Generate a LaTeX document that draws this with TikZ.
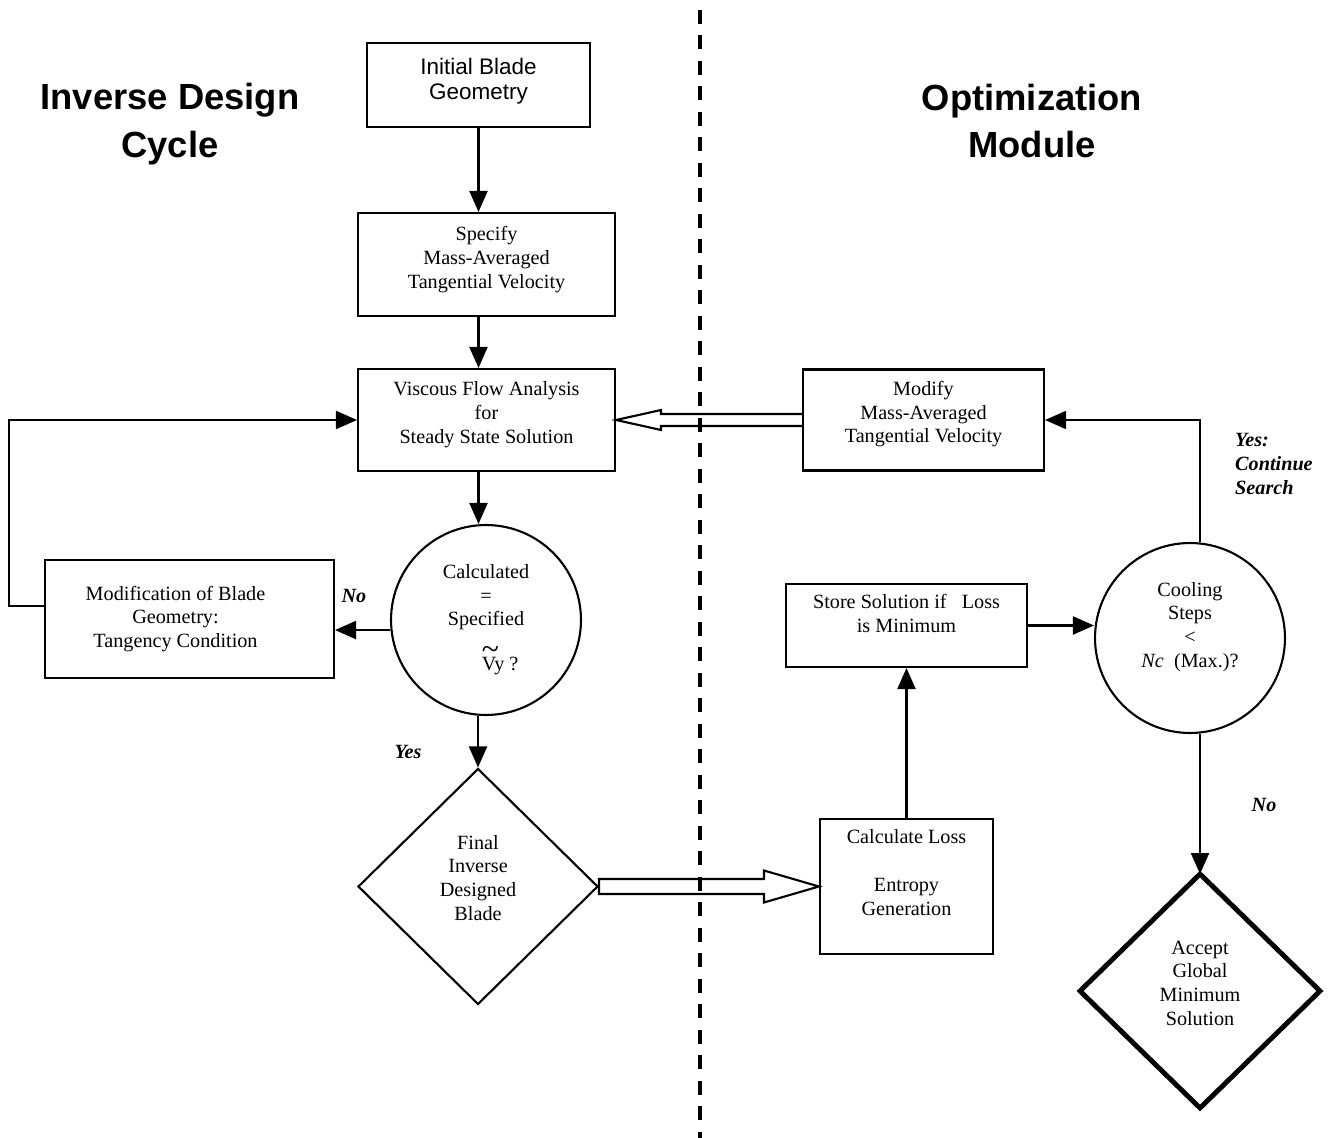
\documentclass[tikz,border=0pt]{standalone}
\usepackage{fontspec}
\setmainfont{Liberation Serif}
\newfontfamily\headfont{Liberation Sans}
\usetikzlibrary{arrows.meta, shapes.geometric, calc}

\newcommand{\bodysize}{\fontsize{11.5}{13.5}\selectfont}
\newcommand{\tildeV}{\makebox[0pt][l]{\raisebox{6.3pt}{\fontsize{18}{18}\selectfont\char"7E}}V}

\tikzset{
	heading/.style={align=center, font=\headfont\bfseries\fontsize{20.7}{27}\selectfont},
	box/.style={draw, line width=1.2pt, align=center, inner sep=0pt, font=\bodysize},
	test/.style={draw, circle, line width=1.2pt, align=center, inner sep=0pt, minimum size=3.8cm, font=\bodysize},
	choice/.style={draw, diamond, line width=1.2pt, align=center, inner sep=0pt, font=\bodysize},
	lbl/.style={font=\bodysize\bfseries\itshape},
	arr/.style={line width=1.2pt, -{Triangle[length=0.42cm, width=0.36cm]}},
	hollow/.style={line width=1.2pt, line join=miter},
	divider/.style={line width=2.3pt, dash pattern=on 0.28cm off 0.23cm}
}

\begin{document}
\begin{tikzpicture}[x=0.02cm, y=-0.02cm]

	\useasboundingbox (0,0) rectangle (1329,1138);

	\node[heading] (hinv) at (170,124) {Inverse Design\\Cycle};
	\node[heading] (hopt) at (1032,121) {Optimization\\Module};

	% inverse design cycle
	\node[box, font=\headfont\fontsize{12.8}{14.7}\selectfont, minimum width=4.46cm, minimum height=1.68cm, text depth=7pt] (init) at (478.5,85) {Initial Blade\\Geometry};
	\node[box, minimum width=5.14cm, minimum height=2.06cm, text depth=8pt] (spec) at (486.5,264.5) {Specify\\Mass-Averaged\\Tangential Velocity};
	\node[box, minimum width=5.14cm, minimum height=2.04cm, text depth=8.5pt] (visc) at (486.5,420) {Viscous Flow Analysis\\for\\Steady State Solution};
	\node[test, text depth=3pt] (calc) at (486,620) {Calculated\\=\\Specified\\[8pt]\hspace*{1.4em}\tildeV y ?};
	\node[box, minimum width=5.78cm, minimum height=2.36cm] (modg) at (189.5,619) {};
	\node[align=center, font=\bodysize, inner sep=0pt] (modgtext) at ($(modg.center)+(-14,0)$) {Modification of Blade\\Geometry:\\Tangency Condition};
	\node[choice, minimum width=4.8cm, minimum height=4.72cm, text depth=10pt] (fin) at (478,886.5) {Final\\Inverse\\Designed\\Blade};

	\node[lbl] (no1) at (354,596) {No};
	\node[lbl] (yes1) at (408,752) {Yes};

	\draw[arr] (init.south) -- (init.south |- spec.north);
	\draw[arr] (init.south |- spec.south) -- (init.south |- visc.north);
	\draw[arr] (init.south |- visc.south) -- (init.south |- calc.north);
	\draw[arr] (calc.186) -- (calc.186 -| modg.east);
	\draw[arr] ($(modg.west)+(0,-13)$) -- ++(-35,0) |- (visc.west);
	\draw[arr] (fin.north |- calc.south) -- (fin.north);

	% optimization module
	\node[box, minimum width=4.82cm, minimum height=2.02cm, text depth=9pt] (modv) at (923.5,420) {Modify\\Mass-Averaged\\Tangential Velocity};
	\node[box, minimum width=4.82cm, minimum height=1.66cm, text depth=14pt] (store) at (906.5,625.5) {Store Solution if\enspace\ Loss\\is Minimum};
	\node[box, minimum width=3.46cm, minimum height=2.7cm, text depth=16pt] (loss) at (906.5,886.5) {Calculate Loss\\[13.5pt]Entropy\\Generation};
	\node[test, text depth=15pt] (cool) at (1190,638) {Cooling\\Steps\\\textless\\\textit{Nc}\enspace(Max.)?};
	\node[choice, line width=2.8pt, outer sep=0pt, minimum width=4.8cm, minimum height=4.68cm, text depth=9pt] (accept) at (1200,991) {Accept\\Global\\Minimum\\Solution};

	\node[lbl, align=left, anchor=west] (yes2) at (1229,464) {Yes:\\Continue\\Search};
	\node[lbl] (no2) at (1264,805) {No};

	\draw[arr] (loss.north) -- (store.south);
	\draw[arr] (store.east) -- (store.east -| cool.west);
	\draw[arr] ($(cool.north)+(10,0)$) |- (modv.east);
	\draw[arr] (accept.north |- cool.south) -- (accept.north);

	% wide arrows across the divider
	\draw[hollow] ($(modv.west)+(0,-6)$) -- ($(visc.east)+(45,-6)$) -- ($(visc.east)+(45,-10)$) -- (visc.east)
		-- ($(visc.east)+(45,10)$) -- ($(visc.east)+(45,6)$) -- ($(modv.west)+(0,6)$);
	\draw[hollow] ($(fin.east)+(0,-7.5)$) -- ($(loss.west)+(-55,-7.5)$) -- ($(loss.west)+(-55,-16)$) -- (loss.west)
		-- ($(loss.west)+(-55,16)$) -- ($(loss.west)+(-55,7.5)$) -- ($(fin.east)+(0,7.5)$) -- cycle;

	\draw[divider] (700,10) -- (700,1138);

\end{tikzpicture}
\end{document}
